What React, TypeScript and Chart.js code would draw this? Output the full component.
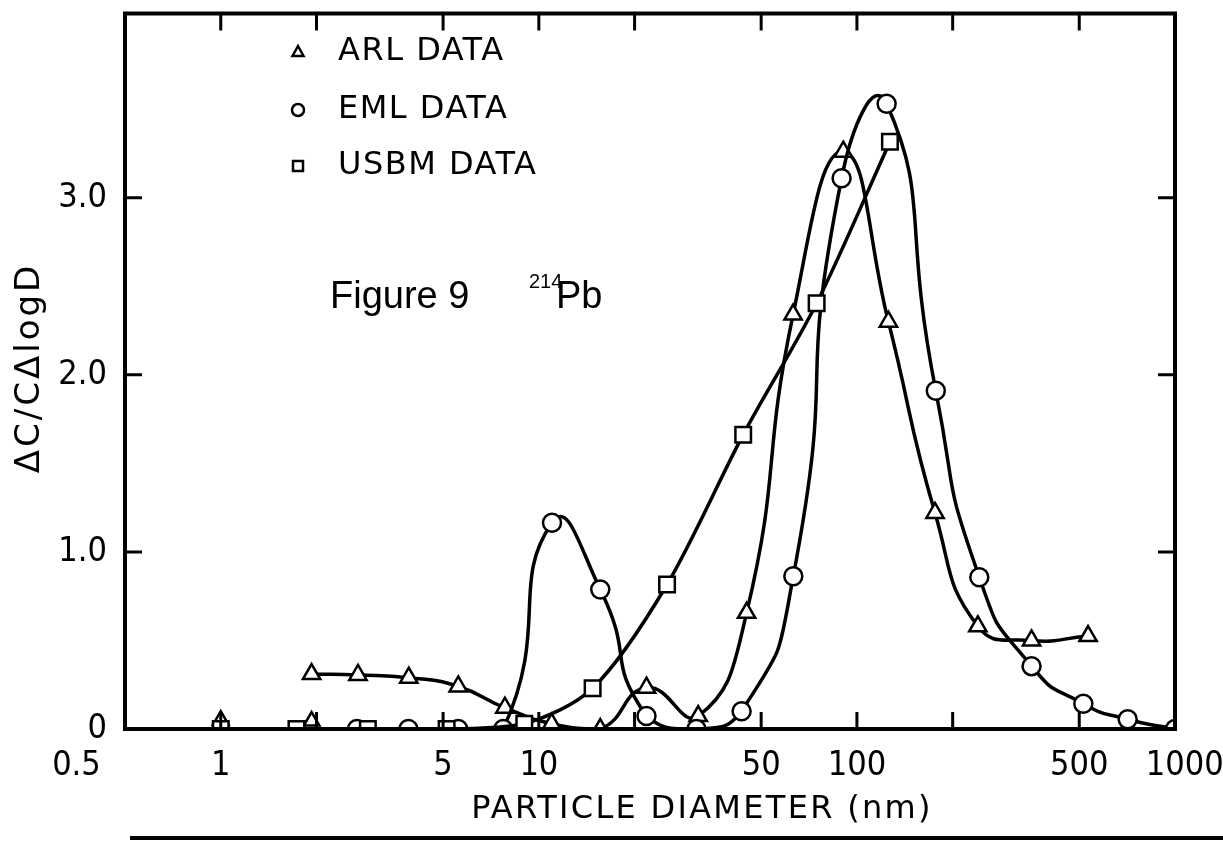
import React, { useEffect, useRef } from 'react';
import { Chart, registerables } from 'chart.js';

Chart.register(...registerables);

// ---- data ----
const X_TICKS = [0.5, 1, 2, 5, 10, 20, 50, 100, 200, 500, 1000];
const X_TICK_LABELS = ['0.5' + ' '.repeat(10), '1', '', '5', '10', '', '50', '100', '', '500', '  1000'];
const X_MARKS = [1, 2, 5, 10, 20, 50, 100, 200, 500];
const Y_TICKS = [0, 1, 2, 3];
const Y_TICK_LABELS = ['0', '1.0', '2.0', '3.0'];
const Y_MARKS = [1, 2, 3];

const ARL_X = [1.93, 2.7, 3.9, 5.58, 7.82, 10.97, 15.6, 21.8, 31.7, 45.0, 63.0, 90.6, 125.6, 176, 240, 354, 533];
const ARL_Y = [0.31, 0.305, 0.29, 0.24, 0.12, 0.03, 0.0, 0.233, 0.073, 0.656, 2.34, 3.26, 2.3, 1.22, 0.58, 0.5, 0.525];
const ARL_BASE_X = [1.0, 1.93];
const ARL_BASE_Y = [0.05, 0.045];

const EML_X = [2.68, 3.89, 5.58, 7.73, 11.0, 15.6, 21.8, 31.3, 43.4, 63.1, 89.5, 124, 177, 242.5, 354, 515, 710, 1000];
const EML_Y = [0, 0, 0, 0, 1.164, 0.788, 0.073, 0, 0.1, 0.863, 3.11, 3.53, 1.91, 0.857, 0.355, 0.143, 0.055, 0];

const USBM_X = [1.0, 1.73, 2.9, 5.13, 9.0, 14.76, 25.3, 43.9, 74.7, 127];
const USBM_Y = [0, 0, 0, 0, 0.03, 0.23, 0.816, 1.662, 2.404, 3.316];

const LEGEND_LABELS = ['ARL DATA', 'EML DATA', 'USBM DATA'];
const X_TITLE = 'PARTICLE DIAMETER (nm)';
const Y_TITLE = 'ΔC/CΔlogD';

const TICK_FONT = "'DejaVu Sans Condensed', 'Liberation Sans Narrow', 'DejaVu Sans', sans-serif";
const TEXT_FONT = "'DejaVu Sans', sans-serif";

const toPts = (xs: number[], ys: number[]) => xs.map((x, i) => ({ x, y: ys[i] }));

const framePlugin = {
  id: 'frame',
  afterDraw(chart: any) {
    const { ctx, chartArea: a, scales } = chart;
    const xs = scales.x;
    const ys = scales.y;
    ctx.save();
    ctx.strokeStyle = '#000';
    ctx.lineWidth = 4;
    ctx.lineCap = 'square';
    ctx.strokeRect(a.left, a.top, a.right - a.left, a.bottom - a.top);
    ctx.lineWidth = 3;
    ctx.lineCap = 'butt';
    const L = 17;
    X_MARKS.forEach((v) => {
      const px = xs.getPixelForValue(v);
      ctx.beginPath();
      ctx.moveTo(px, a.bottom);
      ctx.lineTo(px, a.bottom - L);
      ctx.moveTo(px, a.top);
      ctx.lineTo(px, a.top + L);
      ctx.stroke();
    });
    Y_MARKS.forEach((v) => {
      const py = ys.getPixelForValue(v);
      ctx.beginPath();
      ctx.moveTo(a.left, py);
      ctx.lineTo(a.left + L, py);
      ctx.moveTo(a.right, py);
      ctx.lineTo(a.right - L, py);
      ctx.stroke();
    });

    // legend
    const lx = 298;
    const rows = [52, 110, 166];
    ctx.lineWidth = 2.5;
    ctx.beginPath();
    ctx.moveTo(lx, rows[0] - 6);
    ctx.lineTo(lx + 5.5, rows[0] + 4);
    ctx.lineTo(lx - 5.5, rows[0] + 4);
    ctx.closePath();
    ctx.stroke();
    ctx.beginPath();
    ctx.arc(lx, rows[1], 6, 0, Math.PI * 2);
    ctx.stroke();
    ctx.strokeRect(lx - 5, rows[2] - 5, 10, 10);

    ctx.fillStyle = '#000';
    ctx.font = `32px ${TEXT_FONT}`;
    (ctx as any).letterSpacing = '1.5px';
    ctx.textBaseline = 'middle';
    ctx.textAlign = 'left';
    LEGEND_LABELS.forEach((t, i) => ctx.fillText(t, 338, rows[i]));

    // annotation
    (ctx as any).letterSpacing = '0px';
    ctx.textBaseline = 'alphabetic';
    ctx.font = `38px 'Liberation Sans', Arial, sans-serif`;
    ctx.fillText('Figure 9', 330, 308);
    ctx.font = `20px 'Liberation Sans', Arial, sans-serif`;
    ctx.fillText('214', 529, 288);
    ctx.font = `38px 'Liberation Sans', Arial, sans-serif`;
    ctx.fillText('Pb', 556, 308);

    // axis titles
    ctx.font = `32px ${TEXT_FONT}`;
    (ctx as any).letterSpacing = '2.3px';
    ctx.textAlign = 'center';
    ctx.textBaseline = 'middle';
    ctx.fillText(X_TITLE, 702, 810);
    ctx.save();
    ctx.translate(30, 368);
    ctx.rotate(-Math.PI / 2);
    ctx.font = `34px ${TEXT_FONT}`;
    (ctx as any).letterSpacing = '3px';
    ctx.fillText(Y_TITLE, 0, 0);
    ctx.restore();

    // scan edge line at the bottom
    ctx.lineWidth = 4;
    ctx.beginPath();
    ctx.moveTo(130, 838);
    ctx.lineTo(1223, 838);
    ctx.stroke();
    ctx.restore();
  },
};

const zeroPad = (s: any) => {
  s.paddingLeft = 0;
  s.paddingRight = 0;
  s.paddingTop = 0;
  s.paddingBottom = 0;
};

export default function App() {
  const ref = useRef<HTMLCanvasElement | null>(null);
  useEffect(() => {
    document.body.style.margin = '0';
    const canvas = ref.current;
    if (!canvas) return;
    const common = {
      showLine: true,
      borderColor: '#000',
      borderWidth: 3.5,
      pointBorderColor: '#000',
      pointBackgroundColor: '#fff',
      pointBorderWidth: 2.5,
      fill: false,
    };
    const chart = new Chart(canvas, {
      type: 'scatter',
      data: {
        datasets: [
          { ...common, label: 'USBM DATA', data: toPts(USBM_X, USBM_Y), tension: 0.3, pointStyle: 'rect', pointRadius: 11 },
          { ...common, label: 'EML DATA', data: toPts(EML_X, EML_Y), tension: 0.6, pointStyle: 'circle', pointRadius: 9 },
          { ...common, label: 'ARL DATA', data: toPts(ARL_X, ARL_Y), tension: 0.5, pointStyle: 'triangle', pointRadius: 10 },
          { ...common, label: 'ARL base', data: toPts(ARL_BASE_X, ARL_BASE_Y), showLine: false, pointStyle: 'triangle', pointRadius: 9 },
        ],
      },
      options: {
        responsive: false,
        animation: false,
        devicePixelRatio: 1,
        layout: { padding: { left: 0, top: 12, right: 48, bottom: 0 } },
        plugins: { legend: { display: false }, tooltip: { enabled: false } },
        scales: {
          x: {
            type: 'logarithmic',
            min: 0.5,
            max: 1000,
            grid: { display: false },
            border: { display: false },
            afterBuildTicks: (s: any) => {
              s.ticks = X_TICKS.map((v) => ({ value: v }));
            },
            afterFit: (s: any) => {
              s.height = 112;
              zeroPad(s);
            },
            ticks: {
              autoSkip: false,
              maxRotation: 0,
              minRotation: 0,
              padding: 9,
              color: '#000',
              font: { family: TICK_FONT, size: 34 },
              callback: (v: any) => {
                const i = X_TICKS.indexOf(Number(v));
                return i >= 0 ? X_TICK_LABELS[i] : '';
              },
            },
          },
          y: {
            type: 'linear',
            min: 0,
            max: 4.04,
            grid: { display: false },
            border: { display: false },
            afterBuildTicks: (s: any) => {
              s.ticks = Y_TICKS.map((v) => ({ value: v }));
            },
            afterFit: (s: any) => {
              s.width = 125;
              zeroPad(s);
            },
            ticks: {
              padding: 10,
              color: '#000',
              font: { family: TICK_FONT, size: 34 },
              callback: (v: any) => {
                const i = Y_TICKS.indexOf(Number(v));
                return i >= 0 ? Y_TICK_LABELS[i] : '';
              },
            },
          },
        },
      },
      plugins: [framePlugin],
    } as any);
    return () => chart.destroy();
  }, []);
  return (
    <div style={{ position: 'fixed', left: 0, top: 0, width: 1223, height: 841, background: '#fff' }}>
      <canvas ref={ref} width={1223} height={841} style={{ display: 'block' }} />
    </div>
  );
}
